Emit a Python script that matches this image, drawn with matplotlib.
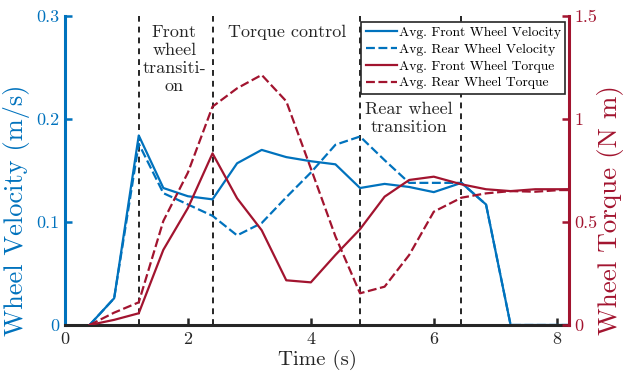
import matplotlib
matplotlib.use("Agg")
import matplotlib.pyplot as plt

plt.rcParams['font.family'] = ['cmr10', 'DejaVu Serif']
plt.rcParams['axes.formatter.use_mathtext'] = True
plt.rcParams['mathtext.fontset'] = 'cm'

# ---- data ----
time = [0.4, 0.8, 1.2, 1.6, 2.0, 2.4, 2.8, 3.2, 3.6, 4.0, 4.4, 4.8,
        5.2, 5.6, 6.0, 6.45, 6.85, 7.25, 7.65, 8.05, 8.45]
front_vel = [0, 0.026, 0.184, 0.133, 0.125, 0.122, 0.157, 0.170, 0.163,
             0.159, 0.156, 0.133, 0.137, 0.134, 0.129, 0.138, 0.117,
             0, 0, 0, 0]
rear_vel = [0, 0.026, 0.176, 0.128, 0.117, 0.106, 0.087, 0.099, 0.124,
            0.148, 0.175, 0.183, 0.160, 0.138, 0.138, 0.138, 0.117,
            0, 0, 0, 0]
front_torque = [0, 0.025, 0.057, 0.365, 0.568, 0.833, 0.615, 0.46, 0.217,
                0.207, 0.34, 0.465, 0.623, 0.704, 0.72, 0.683, 0.659,
                0.65, 0.659, 0.659, 0.66]
rear_torque = [0, 0.06, 0.11, 0.505, 0.74, 1.06, 1.149, 1.214, 1.086,
               0.76, 0.43, 0.154, 0.186, 0.34, 0.55, 0.618, 0.639,
               0.65, 0.647, 0.655, 0.655]
phase_lines = [1.2, 2.4, 4.8, 6.45]

vel_ticks = [0, 0.1, 0.2, 0.3]
vel_ticklabels = ['0', '0.1', '0.2', '0.3']
torque_ticks = [0, 0.5, 1.0, 1.5]
torque_ticklabels = ['0', '0.5', '1', '1.5']
x_ticks = [0, 2, 4, 6, 8]

BLUE = '#0072BD'
RED = '#A2142F'
DARK = '#262626'

fig = plt.figure(figsize=(6.24, 3.81), dpi=100)
ax = fig.add_axes([65/624, 1-325/381, (569-65)/624, (325-16)/381])
ax2 = ax.twinx()

l1, = ax.plot(time, front_vel, color=BLUE, lw=1.6, label='Avg. Front Wheel Velocity')
l2, = ax.plot(time, rear_vel, color=BLUE, lw=1.6, ls=(0, (4, 1.6)), label='Avg. Rear Wheel Velocity')
l3, = ax2.plot(time, front_torque, color=RED, lw=1.6, label='Avg. Front Wheel Torque')
l4, = ax2.plot(time, rear_torque, color=RED, lw=1.6, ls=(0, (4, 1.6)), label='Avg. Rear Wheel Torque')

for xv in phase_lines:
    ax.axvline(xv, color='black', lw=1.2, ls=(0, (3.5, 3)), zorder=1)

ax.set_xlim(0, 8.2)
ax.set_ylim(0, 0.3)
ax2.set_ylim(0, 1.5)

ax.set_xticks(x_ticks)
ax.set_xticklabels([str(v) for v in x_ticks])
ax.set_yticks(vel_ticks)
ax.set_yticklabels(vel_ticklabels)
ax2.set_yticks(torque_ticks)
ax2.set_yticklabels(torque_ticklabels)

for a in (ax, ax2):
    a.spines['top'].set_visible(False)
ax.spines['right'].set_visible(False)
ax2.spines['left'].set_visible(False)
ax2.spines['bottom'].set_visible(False)
ax.spines['left'].set_color(BLUE)
ax.spines['left'].set_linewidth(2.2)
ax.spines['bottom'].set_color(DARK)
ax.spines['bottom'].set_linewidth(2.2)
ax2.spines['right'].set_color(RED)
ax2.spines['right'].set_linewidth(2.2)

ax.tick_params(axis='x', direction='in', length=5, width=1.8, color=DARK,
               labelcolor=DARK, labelsize=13, pad=5)
ax.tick_params(axis='y', direction='in', length=5, width=1.8, color=BLUE,
               labelcolor=BLUE, labelsize=13, pad=4)
ax2.tick_params(axis='y', direction='in', length=5, width=1.8, color=RED,
                labelcolor=RED, labelsize=13, pad=4)

ax.set_xlabel('Time (s)', fontsize=15, color=DARK, labelpad=2)
ax.set_ylabel('Wheel Velocity (m/s)', fontsize=19, color=BLUE)
ax2.set_ylabel('Wheel Torque (N m)', fontsize=19.5, color=RED)
ax.yaxis.set_label_coords(-0.07, 0.372)
ax2.yaxis.set_label_coords(1.056, 0.372)

ax.text(1.78, 0.292, 'Front\nwheel\ntransiti-\non', ha='center', va='top',
        fontsize=13, color=DARK, linespacing=1.22)
ax.text(3.62, 0.2845, 'Torque control', ha='center', va='center',
        fontsize=13, color=DARK)
ax.text(5.6, 0.2165, 'Rear wheel\ntransition', ha='center', va='top',
        fontsize=13, color=DARK, linespacing=1.22)

leg = ax2.legend(handles=[l1, l2, l3, l4], loc='upper right',
                 bbox_to_anchor=(0.992, 0.98), fontsize=9.8,
                 frameon=True, fancybox=False, framealpha=1,
                 edgecolor=DARK, handlelength=2.3, handletextpad=0.15,
                 borderpad=0.3, labelspacing=0.32, borderaxespad=0)
leg.get_frame().set_linewidth(1.2)

fig.savefig('out.png', dpi=100)
